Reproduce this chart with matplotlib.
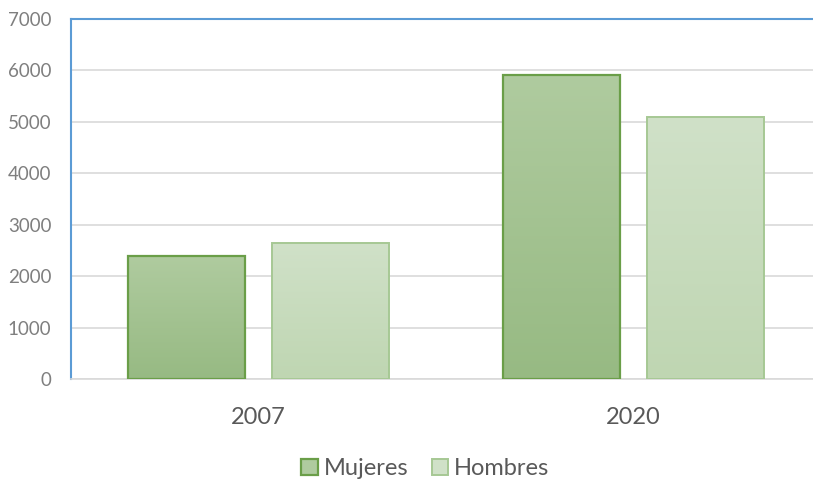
import numpy as np
import matplotlib.pyplot as plt
from matplotlib.colors import LinearSegmentedColormap
from matplotlib.patches import Patch

years = ["2007", "2020"]
mujeres = [2390, 5910]
hombres = [2650, 5100]

plt.rcParams["font.family"] = ["Lato", "DejaVu Sans"]

fig = plt.figure(figsize=(8.13, 4.8), dpi=100)
ax = fig.add_axes([0.0873, 0.2104, 0.9225, 0.75])

x = np.arange(len(years))
w = 0.31
off = 0.192

series = [
    (mujeres, -off, "#afcb9f", "#97ba83", "#6a9e48", 1.6, "Mujeres"),
    (hombres, off, "#d0e1c8", "#bfd6b2", "#a6c894", 1.4, "Hombres"),
]

grad = np.linspace(0, 1, 100).reshape(-1, 1)
handles = []
for vals, dx, c_top, c_bot, edge, lw, name in series:
    cmap = LinearSegmentedColormap.from_list(name, [c_bot, c_top])
    bars = ax.bar(x + dx, vals, w, facecolor="none", edgecolor=edge, linewidth=lw, zorder=3)
    for b in bars:
        x0, y0 = b.get_x(), b.get_y()
        im = ax.imshow(grad, cmap=cmap, aspect="auto", origin="lower",
                       extent=[x0, x0 + b.get_width(), y0, y0 + b.get_height()], zorder=2)
        im.set_clip_path(b)
    handles.append(Patch(facecolor=c_top, edgecolor=edge, linewidth=lw, label=name))

ax.set_xlim(-0.5, 1.5)
ax.set_ylim(0, 7000)
ax.set_yticks(range(0, 7001, 1000))
ax.set_xticks(x)
ax.set_xticklabels(years, fontsize=17, color="#595959")
ax.tick_params(axis="x", length=0, pad=20)
ax.tick_params(axis="y", length=0, pad=14, labelsize=13.5, labelcolor="#7f7f7f")
ax.grid(axis="y", color="#d9d9d9", linewidth=1.2, zorder=0)
ax.set_axisbelow(True)

for s in ("left", "top"):
    ax.spines[s].set_color("#5b9bd5")
    ax.spines[s].set_linewidth(1.5)
ax.spines["bottom"].set_color("#d9d9d9")
ax.spines["bottom"].set_linewidth(1.2)
ax.spines["right"].set_visible(False)

fig.legend(handles=handles, loc="lower center", bbox_to_anchor=(0.523, -0.043), ncol=2,
           frameon=False, fontsize=17, handlelength=0.7, handleheight=0.7,
           handletextpad=0.25, columnspacing=1.0, labelcolor="#595959")

fig.savefig("out.png", dpi=100, facecolor="white")
